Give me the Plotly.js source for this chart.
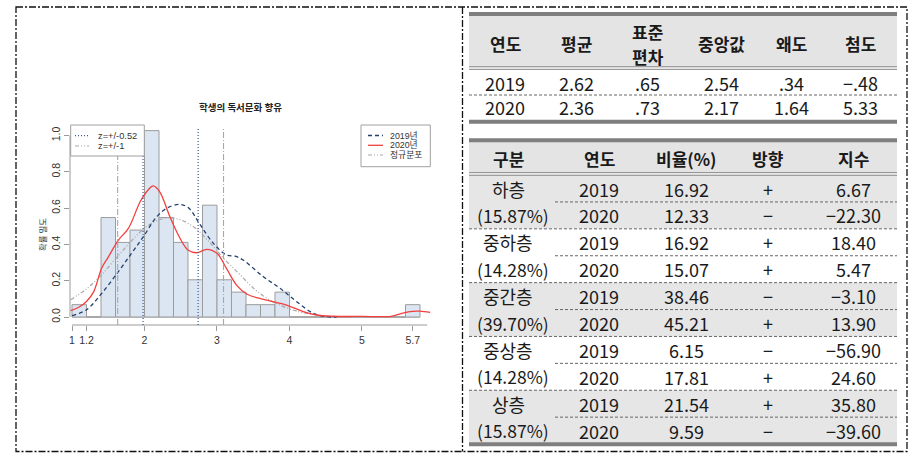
<!DOCTYPE html>
<html>
<head>
<meta charset="utf-8">
<script src="https://cdn.plot.ly/plotly-3.0.1.min.js"></script>
<style>
  body { margin: 0; background: #fff; }
  #chart { width: 921px; height: 460px; }
</style>
</head>
<body>
<div id="chart"></div>
<script>
// histogram of 2020 scores (density, bin width 0.2)
const binStarts = [1.0, 1.2, 1.4, 1.6, 1.8, 2.0, 2.2, 2.4, 2.6, 2.8, 3.0, 3.2, 3.4, 3.6, 3.8, 4.0, 4.2, 4.4, 4.6, 4.8, 5.0, 5.2, 5.4, 5.6];
const binDensity = [0.068, 0, 0.548, 0.411, 0.479, 1.027, 0.548, 0.411, 0.205, 0.616, 0.205, 0.137, 0.068, 0.068, 0.137, 0, 0, 0, 0, 0, 0, 0, 0, 0.068];
const binWidth = 0.2;

// kernel density, 2019 (dashed navy)
const dens2019X = [1.0, 1.2, 1.41, 1.64, 1.82, 1.98, 2.17, 2.31, 2.47, 2.6, 2.77, 2.95, 3.13, 3.25, 3.36, 3.64, 3.87, 4.1, 4.33, 4.51, 4.65];
const dens2019Y = [0.007, 0.04, 0.13, 0.25, 0.35, 0.44, 0.553, 0.6, 0.62, 0.604, 0.507, 0.406, 0.342, 0.335, 0.314, 0.222, 0.158, 0.084, 0.02, 0.002, 0.0];

// kernel density, 2020 (red)
const dens2020X = [0.98, 1.1, 1.2, 1.3, 1.41, 1.5, 1.64, 1.78, 1.94, 2.05, 2.12, 2.21, 2.35, 2.49, 2.6, 2.72, 2.86, 3.0, 3.13, 3.27, 3.41, 3.64, 3.96, 4.19, 4.37, 4.6, 5.0, 5.4, 5.55, 5.66, 5.8, 5.94];
const dens2020Y = [0.035, 0.055, 0.085, 0.14, 0.27, 0.33, 0.424, 0.49, 0.635, 0.7, 0.722, 0.69, 0.553, 0.434, 0.369, 0.354, 0.373, 0.351, 0.268, 0.176, 0.127, 0.097, 0.066, 0.03, 0.011, 0.004, 0.003, 0.004, 0.02, 0.03, 0.032, 0.025];

// normal curve (grey dot-dash)
const normX = [0.98, 1.2, 1.4, 1.6, 1.8, 2.0, 2.2, 2.36, 2.5, 2.7, 2.9, 3.1, 3.3, 3.5, 3.7, 3.9, 4.1, 4.3];
const normY = [0.095, 0.155, 0.23, 0.32, 0.41, 0.49, 0.535, 0.546, 0.535, 0.49, 0.41, 0.32, 0.24, 0.16, 0.1, 0.06, 0.032, 0.015];

// z cut lines
const zDotted = [1.98, 2.74];   // z=+/-0.52
const zDashDot = [1.63, 3.09];  // z=+/-1

const xTickVals = [1, 1.2, 2, 3, 4, 5, 5.7];
const xTickText = ['1', '1.2', '2', '3', '4', '5', '5.7'];
const yTickVals = [0, 0.2, 0.4, 0.6, 0.8, 1.0];
const yTickText = ['0.0', '0.2', '0.4', '0.6', '0.8', '1.0'];

// table 1: descriptive stats (header lines split, 표준/편차 is two lines)
const statHeaders = [['연도'], ['평균'], ['표준', '편차'], ['중앙값'], ['왜도'], ['첨도']];
const statYears = ['2019', '2020'];
const statMean = ['2.62', '2.36'];
const statSd = ['.65', '.73'];
const statMedian = ['2.54', '2.17'];
const statSkew = ['.34', '1.64'];
const statKurt = ['−.48', '5.33'];

// table 2: strata
const strataHeaders = ['구분', '연도', '비율(%)', '방향', '지수'];
const groupNames = ['하층', '중하층', '중간층', '중상층', '상층'];
const groupShares = ['(15.87%)', '(14.28%)', '(39.70%)', '(14.28%)', '(15.87%)'];
const ratio2019 = ['16.92', '16.92', '38.46', '6.15', '21.54'];
const ratio2020 = ['12.33', '15.07', '45.21', '17.81', '9.59'];
const dir2019 = ['+', '+', '−', '−', '+'];
const dir2020 = ['−', '+', '+', '+', '−'];
const index2019 = ['6.67', '18.40', '−3.10', '−56.90', '35.80'];
const index2020 = ['−22.30', '5.47', '13.90', '24.60', '−39.60'];

// ---- pixel helpers (plot area 70..431 x 125..325) ----
const PL = 70, PR = 431, PT = 125, PB = 325;
const px = x => (x - PL) / (PR - PL);
const py = y => (PB - y) / (PB - PT);

const NAVY = '#23406e', RED = '#f2403f', GREY = '#a8a8a8', ZNAVY = '#3a5a95';
const KFONT = 'Noto Sans CJK KR';
const AFONT = 'Liberation Sans, Noto Sans CJK KR';
const TSIZE = 18;

let traces = [];
traces.push({
    type: 'bar',
    x: binStarts.map(b => b + binWidth / 2),
    y: binDensity,
    width: binWidth,
    marker: {color: '#dce5f2', line: {color: '#9c9c9c', width: 1}},
    hoverinfo: 'skip'
});
traces.push({
    type: 'scatter', mode: 'lines', x: normX, y: normY,
    line: {color: GREY, width: 1.2, dash: '4px,2px,1px,2px,1px,2px', shape: 'spline'}
});
traces.push({
    type: 'scatter', mode: 'lines', x: dens2019X, y: dens2019Y,
    line: {color: NAVY, width: 1.3, dash: '4px,3px', shape: 'spline'}
});
traces.push({
    type: 'scatter', mode: 'lines', x: dens2020X, y: dens2020Y,
    line: {color: RED, width: 1.3, shape: 'spline'}
});

let shapes = [];
let annotations = [];

// baseline of hist and axis lines
shapes.push({type: 'line', xref: 'x', yref: 'y', x0: binStarts[0], x1: binStarts[binStarts.length - 1] + binWidth, y0: 0, y1: 0,
    line: {color: '#9c9c9c', width: 1}, layer: 'below'});
shapes.push({type: 'line', xref: 'x', yref: 'paper', x0: 1, x1: 5.9, y0: 0, y1: 0, line: {color: '#9a9a9a', width: 1}});
shapes.push({type: 'line', xref: 'paper', yref: 'y', x0: 0, x1: 0, y0: 0, y1: 1.0, line: {color: '#9a9a9a', width: 1}});

// z lines
zDotted.forEach(v => shapes.push({type: 'line', xref: 'x', yref: 'paper', x0: v, x1: v, y0: 0, y1: 0.99,
    line: {color: ZNAVY, width: 1.2, dash: '1px,2px'}}));
zDashDot.forEach(v => shapes.push({type: 'line', xref: 'x', yref: 'paper', x0: v, x1: v, y0: 0, y1: 0.99,
    line: {color: GREY, width: 1.1, dash: '6px,2px,1px,2px'}}));

function box(x0, y0, x1, y1, fill, color, width, dash) {
    shapes.push({type: 'rect', xref: 'paper', yref: 'paper', x0: px(x0), x1: px(x1), y0: py(y0), y1: py(y1),
        fillcolor: fill, line: {color: color, width: width, dash: dash || 'solid'}});
}
function hline(x0, x1, y, color, width, dash) {
    shapes.push({type: 'line', xref: 'paper', yref: 'paper', x0: px(x0), x1: px(x1), y0: py(y), y1: py(y),
        line: {color: color, width: width, dash: dash || 'solid'}});
}
function vline(x, y0, y1, color, width, dash) {
    shapes.push({type: 'line', xref: 'paper', yref: 'paper', x0: px(x), x1: px(x), y0: py(y0), y1: py(y1),
        line: {color: color, width: width, dash: dash || 'solid'}});
}
function label(text, x, y, size, opts) {
    opts = opts || {};
    annotations.push({
        text: text, xref: 'paper', yref: 'paper', x: px(x), y: py(y), showarrow: false,
        xanchor: opts.xanchor || 'center', yanchor: 'middle', textangle: opts.angle || 0,
        borderpad: 0,
        font: {family: opts.family || KFONT, size: size, color: opts.color || '#1a1a1a'}
    });
}

// legend boxes
box(70.7, 125, 144.3, 156, '#fff', '#a0a0a0', 1);
hline(75, 89, 135.7, ZNAVY, 1.2, '1px,2px');
hline(75, 89, 146, GREY, 1.2, '4px,2px,1px,2px,1px,2px');
label('z=+/-0.52', 96.5, 135.7, 9.3, {xanchor: 'left', family: AFONT, color: '#333'});
label('z=+/-1', 96.5, 146, 9.3, {xanchor: 'left', family: AFONT, color: '#333'});

box(361, 125, 430.3, 166.7, '#fff', '#a0a0a0', 1);
hline(368, 383, 135.5, NAVY, 1.3, '4px,3px');
hline(368, 383, 145.3, RED, 1.3);
hline(368, 383, 155, GREY, 1.2, '4px,2px,1px,2px,1px,2px');
label('2019년', 389, 135.5, 8.8, {xanchor: 'left', family: AFONT, color: '#333'});
label('2020년', 389, 145.3, 8.8, {xanchor: 'left', family: AFONT, color: '#333'});
label('정규분포', 389, 155, 8.8, {xanchor: 'left', family: AFONT, color: '#333'});

// chart title and y title
label('<b>학생의 독서문화 향유</b>', 240, 107, 9.5, {color: '#222'});
label('확률 밀도', 42, 235, 8.5, {angle: -90, color: '#333'});

// outer frame
box(16, 7, 907, 451.5, 'rgba(0,0,0,0)', '#111', 1.3, '7px,2px,2px,2px');
vline(462.5, 7, 451.5, '#111', 1.3, '7px,2px,2px,2px');

// ---- table 1 ----
const T1L = 469, T1R = 897;
const t1Cols = [505, 576.7, 647.7, 721.7, 791.7, 860];
box(T1L, 16, T1R, 66.7, '#e4e4e4', 'rgba(0,0,0,0)', 0);
hline(T1L, T1R, 14, '#7f7f7f', 4);
hline(T1L, T1R, 66.8, '#7f7f7f', 1);
hline(T1L, T1R, 69.3, '#7f7f7f', 1);
hline(T1L, T1R, 95, '#666', 1, '3px,2px');
hline(T1L, T1R, 121.7, '#7f7f7f', 4);
statHeaders.forEach((h, i) => {
    if (h.length === 1) label('<b>' + h[0] + '</b>', t1Cols[i], 43, 17);
    else h.forEach((part, k) => label('<b>' + part + '</b>', t1Cols[i], 31 + k * 25, 17));
});
const statCols = [statYears, statMean, statSd, statMedian, statSkew, statKurt];
const t1Rows = [82.5, 107];
statCols.forEach((col, i) => col.forEach((v, r) => label(v, t1Cols[i], t1Rows[r], TSIZE)));

// ---- table 2 ----
const T2L = 469, T2R = 897;
const t2Cols = [508.3, 599, 686.7, 768.3, 853.3];
const shareX = 513;
const rowH = 26.9, row0 = 188.5, rowTop = 175;
box(T2L, 142, T2R, 172.5, '#e4e4e4', 'rgba(0,0,0,0)', 0);
[0, 2, 4].forEach(g => box(T2L, rowTop + g * 2 * rowH, T2R, rowTop + (g * 2 + 2) * rowH, '#e6e6e6', 'rgba(0,0,0,0)', 0));
hline(T2L, T2R, 140.3, '#7f7f7f', 4);
hline(T2L, T2R, 172.7, '#7f7f7f', 1);
hline(T2L, T2R, 175.2, '#7f7f7f', 1);
strataHeaders.forEach((h, i) => label('<b>' + h + '</b>', t2Cols[i], 158.3, 17));
groupNames.forEach((g, i) => {
    const yA = row0 + (2 * i) * rowH, yB = row0 + (2 * i + 1) * rowH;
    hline(555, T2R, yA + rowH / 2, '#666', 1, '3px,2px');
    if (i < groupNames.length - 1) hline(T2L, T2R, yB + rowH / 2, '#666', 1, '3px,2px');
    label(g, t2Cols[0], yA, TSIZE);
    label(groupShares[i], shareX, yB, 17.5);
    label('2019', t2Cols[1], yA, TSIZE);
    label('2020', t2Cols[1], yB, TSIZE);
    label(ratio2019[i], t2Cols[2], yA, TSIZE);
    label(ratio2020[i], t2Cols[2], yB, TSIZE);
    label(dir2019[i], t2Cols[3], yA, TSIZE);
    label(dir2020[i], t2Cols[3], yB, TSIZE);
    label(index2019[i], t2Cols[4], yA, TSIZE);
    label(index2020[i], t2Cols[4], yB, TSIZE);
});
hline(T2L, T2R, 444.3, '#7f7f7f', 4);

const layout = {
    width: 921, height: 460,
    margin: {l: PL, r: 921 - PR, t: PT, b: 460 - PB, pad: 0},
    paper_bgcolor: '#fff', plot_bgcolor: '#fff',
    showlegend: false,
    bargap: 0,
    xaxis: {
        range: [0.9724, 5.952], showgrid: false, zeroline: false, showline: false,
        tickmode: 'array', tickvals: xTickVals, ticktext: xTickText,
        ticks: 'outside', ticklen: 5, tickcolor: '#9a9a9a', tickwidth: 1,
        tickfont: {family: AFONT, size: 10.5, color: '#333'}
    },
    yaxis: {
        range: [-0.0441, 1.0579], showgrid: false, zeroline: false, showline: false,
        tickmode: 'array', tickvals: yTickVals, ticktext: yTickText,
        ticks: 'outside', ticklen: 5, tickcolor: '#9a9a9a', tickwidth: 1, tickangle: -90,
        tickfont: {family: AFONT, size: 10.5, color: '#333'}
    },
    shapes: shapes,
    annotations: annotations
};

Plotly.newPlot('chart', traces, layout, {displayModeBar: false, staticPlot: true});
</script>
</body>
</html>
